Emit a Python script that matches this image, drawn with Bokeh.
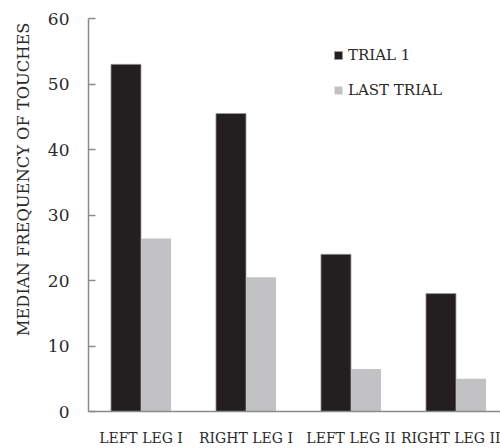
import numpy as np
from bokeh.plotting import figure
from bokeh.models import ColumnDataSource, Range1d, FixedTicker, Legend, LegendItem, Title
from bokeh.embed import file_html
from bokeh.resources import INLINE

categories = ["LEFT LEG I", "RIGHT LEG I", "LEFT LEG II", "RIGHT LEG II"]
trial_1 = [53.0, 45.5, 24.0, 18.0]
last_trial = [26.4, 20.5, 6.5, 5.0]
y_ticks = [0, 10, 20, 30, 40, 50, 60]
y_title = "MEDIAN FREQUENCY OF TOUCHES"

FONT = "DejaVu Serif"
BLACK = "#231f20"
GRAY = "#c2c2c4"
AXIS = "#8a8a8a"
TEXT = "#2a2a2a"

centers = np.arange(len(categories)) + 0.5
bw = 0.286
src = ColumnDataSource(dict(
    xb=centers - bw / 2, xg=centers + bw / 2,
    t1=trial_1, lt=last_trial,
))

p = figure(width=500, height=448, output_backend="svg", toolbar_location=None,
           x_range=Range1d(0, 3.924), y_range=Range1d(0, 60),
           min_border_left=88, min_border_right=0, min_border_top=18,
           min_border_bottom=36)
p.outline_line_color = None
p.xgrid.visible = False
p.ygrid.visible = False
p.background_fill_color = "white"
p.border_fill_color = "white"

r1 = p.vbar(x="xb", top="t1", width=bw, source=src, fill_color=BLACK,
            line_color="#9a9a9a", line_width=0.8)
r2 = p.vbar(x="xg", top="lt", width=bw, source=src, fill_color=GRAY,
            line_color=None)

# axes
xa = p.xaxis[0]
xa.ticker = FixedTicker(ticks=list(centers))
xa.major_label_overrides = {float(c): n for c, n in zip(centers, categories)}
xa.major_tick_in = 0
xa.major_tick_out = 0
xa.minor_tick_line_color = None
xa.axis_line_color = AXIS
xa.axis_line_width = 1.5
xa.major_label_text_font = FONT
xa.major_label_text_font_size = "14px"
xa.major_label_text_color = TEXT
xa.major_label_standoff = 18

ya = p.yaxis[0]
ya.ticker = FixedTicker(ticks=y_ticks)
ya.major_tick_in = 7
ya.major_tick_out = 0
ya.major_tick_line_color = AXIS
ya.major_tick_line_width = 1.5
ya.minor_tick_line_color = None
ya.axis_line_color = AXIS
ya.axis_line_width = 1.5
ya.major_label_text_font = FONT
ya.major_label_text_font_size = "17px"
ya.major_label_text_color = TEXT
ya.major_label_standoff = 19

# y-axis title: aligned towards the top like the reference
p.add_layout(Title(text=y_title, align="right", offset=4, standoff=22,
                   vertical_align="middle", text_font=FONT,
                   text_font_size="16.3px", text_font_style="normal",
                   text_color=TEXT), "left")

legend = Legend(items=[LegendItem(label="TRIAL 1", renderers=[r1]),
                       LegendItem(label="LAST TRIAL", renderers=[r2])],
                location=(245, 311), orientation="vertical")
legend.glyph_width = 10
legend.glyph_height = 10
legend.label_standoff = 5
legend.label_height = 20
legend.spacing = 15
legend.padding = 0
legend.margin = 0
legend.border_line_color = None
legend.background_fill_alpha = 0
legend.label_text_font = FONT
legend.label_text_font_size = "15px"
legend.label_text_color = TEXT
p.add_layout(legend, "center")

open("out.html", "w").write(file_html(p, INLINE))
